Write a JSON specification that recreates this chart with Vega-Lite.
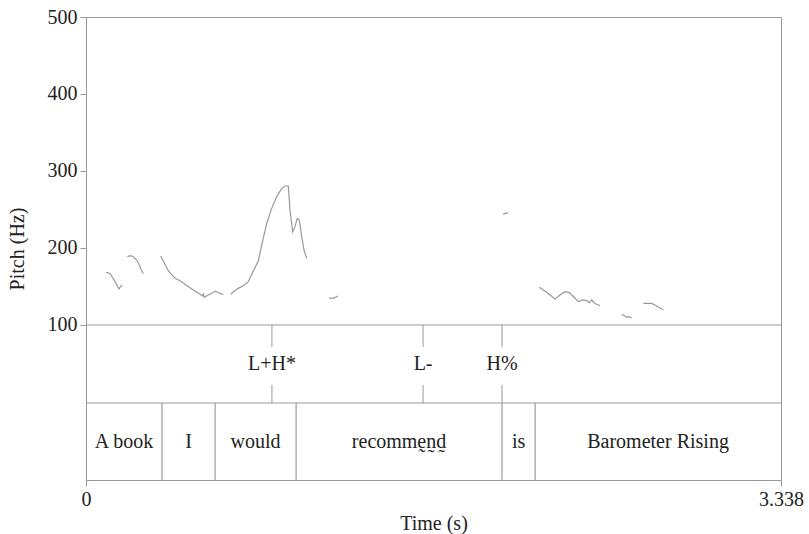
{
  "$schema": "https://vega.github.io/schema/vega-lite/v6.json",
  "width": 695,
  "height": 463,
  "autosize": "none",
  "padding": {"left": 86, "top": 17, "right": 28, "bottom": 54},
  "background": "white",
  "view": {"stroke": "#999", "strokeWidth": 1},
  "config": {
    "font": "Liberation Serif",
    "axis": {
      "labelFont": "Liberation Serif",
      "titleFont": "Liberation Serif",
      "labelColor": "#222",
      "titleColor": "#222",
      "labelFontSize": 20,
      "titleFontSize": 20,
      "titleFontWeight": "normal",
      "domainColor": "#999",
      "tickColor": "#999",
      "grid": false
    }
  },
  "datasets": {
    "pitch": [
      {"seg": 1, "t": 0.0961, "f0": 168.4},
      {"seg": 1, "t": 0.1153, "f0": 167.0},
      {"seg": 1, "t": 0.1359, "f0": 158.0},
      {"seg": 1, "t": 0.1585, "f0": 146.8},
      {"seg": 1, "t": 0.1729, "f0": 152.0},
      {"seg": 2, "t": 0.1984, "f0": 188.7},
      {"seg": 2, "t": 0.2147, "f0": 190.0},
      {"seg": 2, "t": 0.2272, "f0": 188.7},
      {"seg": 2, "t": 0.2435, "f0": 184.4},
      {"seg": 2, "t": 0.2560, "f0": 178.0},
      {"seg": 2, "t": 0.2656, "f0": 171.4},
      {"seg": 2, "t": 0.2752, "f0": 167.0},
      {"seg": 3, "t": 0.3588, "f0": 189.6},
      {"seg": 3, "t": 0.3953, "f0": 170.5},
      {"seg": 3, "t": 0.4275, "f0": 160.6},
      {"seg": 3, "t": 0.4515, "f0": 157.5},
      {"seg": 3, "t": 0.4803, "f0": 151.9},
      {"seg": 3, "t": 0.5154, "f0": 145.5},
      {"seg": 3, "t": 0.5475, "f0": 139.8},
      {"seg": 3, "t": 0.5605, "f0": 137.7},
      {"seg": 3, "t": 0.5634, "f0": 141.1},
      {"seg": 3, "t": 0.5682, "f0": 135.9},
      {"seg": 3, "t": 0.5874, "f0": 139.0},
      {"seg": 3, "t": 0.6037, "f0": 141.1},
      {"seg": 3, "t": 0.6196, "f0": 144.0},
      {"seg": 3, "t": 0.6354, "f0": 141.9},
      {"seg": 3, "t": 0.6594, "f0": 139.8},
      {"seg": 4, "t": 0.6950, "f0": 139.8},
      {"seg": 4, "t": 0.7075, "f0": 143.2},
      {"seg": 4, "t": 0.7315, "f0": 147.6},
      {"seg": 4, "t": 0.7555, "f0": 151.0},
      {"seg": 4, "t": 0.7795, "f0": 156.3},
      {"seg": 4, "t": 0.8035, "f0": 170.0},
      {"seg": 4, "t": 0.8275, "f0": 183.0},
      {"seg": 4, "t": 0.8439, "f0": 204.0},
      {"seg": 4, "t": 0.8679, "f0": 232.0},
      {"seg": 4, "t": 0.8919, "f0": 251.5},
      {"seg": 4, "t": 0.9159, "f0": 266.7},
      {"seg": 4, "t": 0.9399, "f0": 277.5},
      {"seg": 4, "t": 0.9558, "f0": 280.5},
      {"seg": 4, "t": 0.9716, "f0": 280.5},
      {"seg": 4, "t": 0.9798, "f0": 249.0},
      {"seg": 4, "t": 0.9928, "f0": 221.0},
      {"seg": 4, "t": 1.0038, "f0": 227.7},
      {"seg": 4, "t": 1.0149, "f0": 238.6},
      {"seg": 4, "t": 1.0245, "f0": 236.4},
      {"seg": 4, "t": 1.0360, "f0": 214.7},
      {"seg": 4, "t": 1.0470, "f0": 197.4},
      {"seg": 4, "t": 1.0600, "f0": 186.6},
      {"seg": 5, "t": 1.1671, "f0": 135.0},
      {"seg": 5, "t": 1.1911, "f0": 135.0},
      {"seg": 5, "t": 1.2103, "f0": 137.7},
      {"seg": 6, "t": 2.0028, "f0": 244.0},
      {"seg": 6, "t": 2.0268, "f0": 246.0},
      {"seg": 7, "t": 2.1772, "f0": 149.0},
      {"seg": 7, "t": 2.1964, "f0": 145.5},
      {"seg": 7, "t": 2.2204, "f0": 141.0},
      {"seg": 7, "t": 2.2526, "f0": 133.8},
      {"seg": 7, "t": 2.2766, "f0": 139.0},
      {"seg": 7, "t": 2.3006, "f0": 143.2},
      {"seg": 7, "t": 2.3213, "f0": 142.0},
      {"seg": 7, "t": 2.3405, "f0": 137.0},
      {"seg": 7, "t": 2.3645, "f0": 130.4},
      {"seg": 7, "t": 2.3885, "f0": 132.5},
      {"seg": 7, "t": 2.4048, "f0": 131.6},
      {"seg": 7, "t": 2.4173, "f0": 129.0},
      {"seg": 7, "t": 2.4288, "f0": 132.5},
      {"seg": 7, "t": 2.4447, "f0": 128.0},
      {"seg": 7, "t": 2.4687, "f0": 125.0},
      {"seg": 8, "t": 2.5729, "f0": 113.9},
      {"seg": 8, "t": 2.5888, "f0": 111.7},
      {"seg": 8, "t": 2.5970, "f0": 110.0},
      {"seg": 8, "t": 2.6094, "f0": 110.8},
      {"seg": 8, "t": 2.6210, "f0": 109.0},
      {"seg": 9, "t": 2.6767, "f0": 128.0},
      {"seg": 9, "t": 2.7170, "f0": 128.0},
      {"seg": 9, "t": 2.7410, "f0": 124.7},
      {"seg": 9, "t": 2.7727, "f0": 119.5}
    ],
    "words": [
      {"word": "A book", "start": 0.0, "end": 0.365},
      {"word": "I", "start": 0.365, "end": 0.620},
      {"word": "would", "start": 0.620, "end": 1.009},
      {"word": "recommḛn̰d̰", "start": 1.009, "end": 1.998},
      {"word": "is", "start": 1.998, "end": 2.157},
      {"word": "Barometer Rising", "start": 2.157, "end": 3.338}
    ],
    "tones": [
      {"tone": "L+H*", "t": 0.893},
      {"tone": "L-", "t": 1.619},
      {"tone": "H%", "t": 1.998}
    ]
  },
  "layer": [
    {
      "data": {"name": "pitch"},
      "mark": {"type": "line", "color": "#999", "strokeWidth": 1.2, "interpolate": "linear"},
      "encoding": {
        "x": {
          "field": "t",
          "type": "quantitative",
          "scale": {"domain": [0, 3.338], "nice": false, "zero": false},
          "axis": {"title": "Time (s)", "values": [0, 3.338], "labelExpr": "'' + datum.value", "labelFlush": false, "tickSize": 6, "labelPadding": 3, "titlePadding": 4}
        },
        "y": {
          "field": "f0",
          "type": "quantitative",
          "scale": {"domain": [-101.3, 500], "nice": false, "zero": false},
          "axis": {"title": "Pitch (Hz)", "values": [100, 200, 300, 400, 500], "tickSize": 6, "labelPadding": 3, "titlePadding": 20}
        },
        "detail": {"field": "seg", "type": "nominal"}
      }
    },
    {
      "data": {"values": [{"lvl": 100}, {"lvl": -1.3}]},
      "mark": {"type": "rule", "color": "#999", "strokeWidth": 1},
      "encoding": {"y": {"field": "lvl", "type": "quantitative"}}
    },
    {
      "data": {"name": "words"},
      "transform": [{"filter": "datum.start > 0"}],
      "mark": {"type": "rule", "color": "#888", "strokeWidth": 1},
      "encoding": {
        "x": {"field": "start", "type": "quantitative"},
        "y": {"datum": -1.3, "type": "quantitative"},
        "y2": {"datum": -101.3}
      }
    },
    {
      "data": {"name": "words"},
      "transform": [{"calculate": "(datum.start + datum.end) / 2", "as": "mid"}],
      "mark": {"type": "text", "fontSize": 20, "color": "#222", "font": "Liberation Serif", "baseline": "middle"},
      "encoding": {
        "x": {"field": "mid", "type": "quantitative"},
        "y": {"datum": -51.3, "type": "quantitative"},
        "text": {"field": "word"}
      }
    },
    {
      "data": {"name": "tones"},
      "mark": {"type": "rule", "color": "#999", "strokeWidth": 1},
      "encoding": {
        "x": {"field": "t", "type": "quantitative"},
        "y": {"datum": 100, "type": "quantitative"},
        "y2": {"datum": 71.4}
      }
    },
    {
      "data": {"name": "tones"},
      "mark": {"type": "rule", "color": "#999", "strokeWidth": 1},
      "encoding": {
        "x": {"field": "t", "type": "quantitative"},
        "y": {"datum": 22.1, "type": "quantitative"},
        "y2": {"datum": -1.3}
      }
    },
    {
      "data": {"name": "tones"},
      "mark": {"type": "text", "fontSize": 20, "color": "#222", "font": "Liberation Serif", "baseline": "middle"},
      "encoding": {
        "x": {"field": "t", "type": "quantitative"},
        "y": {"datum": 49.4, "type": "quantitative"},
        "text": {"field": "tone"}
      }
    }
  ]
}
